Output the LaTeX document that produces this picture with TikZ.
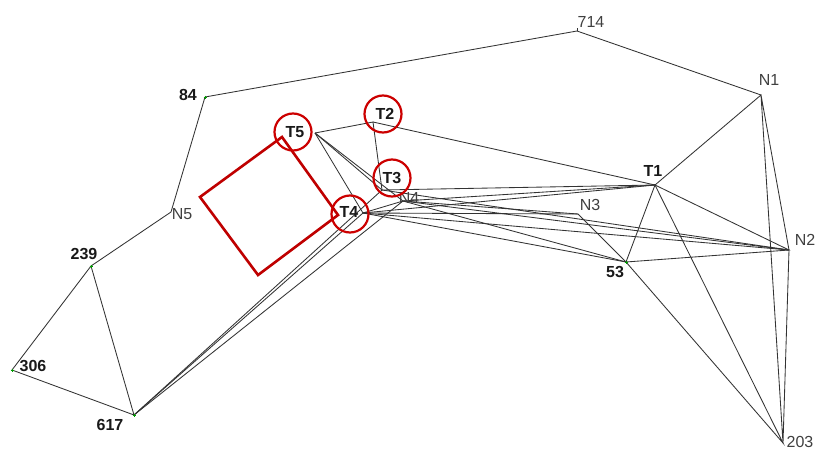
\documentclass[tikz,border=0pt]{standalone}
\usepackage{fontspec}
\setmainfont{Liberation Sans}
\usetikzlibrary{calc}
\begin{document}
\begin{tikzpicture}[x=1pt,y=-1pt,
  edge/.style={draw=black!80,line width=0.85pt},
  lbl/.style={font=\fontsize{16}{16}\selectfont,text=black!75,inner sep=0pt},
  blbl/.style={font=\fontsize{16}{16}\selectfont\bfseries,text=black!90,inner sep=0pt},
  ring/.style={draw=red!80!black,line width=2.2pt,circle,minimum size=37pt,inner sep=0pt},
  zone/.style={draw=red!75!black,line width=2.6pt,line join=miter},
  pin/.style={draw=green!60!black,line width=0.6pt}]
\useasboundingbox (0,0) rectangle (817,450);
\fill[white] (0,0) rectangle (817,450);

% station points
\coordinate (p714) at (577,31);
\coordinate (pN1) at (761,95);
\coordinate (p84) at (205,97);
\coordinate (pT2) at (373,122);
\coordinate (pT5) at (315,133);
\coordinate (pT3) at (382,190);
\coordinate (pN4) at (403,201);
\coordinate (pT4) at (363,213);
\coordinate (pN5) at (171,212);
\coordinate (p239) at (91,266);
\coordinate (p306) at (12,370);
\coordinate (p617) at (134,415);
\coordinate (pT1) at (655,185);
\coordinate (pN3) at (578,214);
\coordinate (p53) at (626,262);
\coordinate (pN2) at (789,250);
\coordinate (p203) at (783,443);

% outer traverse
\draw[edge] (p84) -- (p714) -- (pN1);
\draw[edge] (p84) -- (pN5) -- (p239) -- (p306) -- (p617) -- (p239);

% inner network
\draw[edge] (pT5) -- (pT2) -- (pT3);
\draw[edge] (pT2) -- (pT1);
\draw[edge] (pT5) -- (pT3);
\draw[edge] (pT5) -- (pN4);
\draw[edge] (pT5) -- (pT4);
\draw[edge] (pT3) -- (pT1);
\draw[edge] (pN4) -- (pT1);
\draw[edge] (pT4) -- (pT1);
\draw[edge] (pT4) -- (pN4);
\draw[edge] (pN4) -- (pN3);
\draw[edge] (pT4) -- (pN3);
\draw[edge] (pN3) -- (p53);
\draw[edge] (pN4) -- (pN2);
\draw[edge] (pT4) -- (pN2);
\draw[edge] (pT3) -- (pN2);
\draw[edge] (pN4) -- (p53);
\draw[edge] (pT4) -- (p53);
\draw[edge] (p617) -- (pT4);
\draw[edge] (p617) -- (pT3);
\draw[edge] (p617) -- (pN4);

% eastern figure
\draw[edge] (pT1) -- (pN1) -- (pN2) -- (p203) -- (pN1);
\draw[edge] (pT1) -- (p53) -- (pN2) -- (pT1) -- (p203) -- (p53);

% small point marks
\foreach \q in {p84,p239,p306,p617,p53}
  \draw[pin] ($(\q)+(-1.5,0)$) -- ($(\q)+(1.5,0)$) ($(\q)+(0,-1.5)$) -- ($(\q)+(0,1.5)$);
\draw[edge] (p714) -- ++(0,-3);

% marked area
\draw[zone] (282,137) -- (200,197) -- (258,275) -- (338,215) -- cycle;

% labels
\node[lbl] (l714) at (591,22) {714};
\node[lbl] (lN1) at (769,80) {N1};
\node[blbl] (l84) at (188,95) {84};
\node[blbl] (lT2) at (385,114) {T2};
\node[blbl] (lT5) at (295,132) {T5};
\node[blbl] (lT3) at (392,178) {T3};
\node[lbl] (lN4) at (409,198) {N4};
\node[blbl] (lT4) at (349,212) {T4};
\node[lbl] (lN5) at (182,214) {N5};
\node[blbl] (l239) at (84,254) {239};
\node[blbl] (l306) at (33,366) {306};
\node[blbl] (l617) at (110,425) {617};
\node[blbl] (lT1) at (653,171) {T1};
\node[lbl] (lN3) at (590,205) {N3};
\node[blbl] (l53) at (615,272) {53};
\node[lbl] (lN2) at (805,240) {N2};
\node[lbl] (l203) at (800,442) {203};

% control rings
\node[ring] (cT5) at (293,132) {};
\node[ring] (cT2) at (383,114) {};
\node[ring] (cT3) at (392,178) {};
\node[ring] (cT4) at (350,214) {};
\end{tikzpicture}
\end{document}
